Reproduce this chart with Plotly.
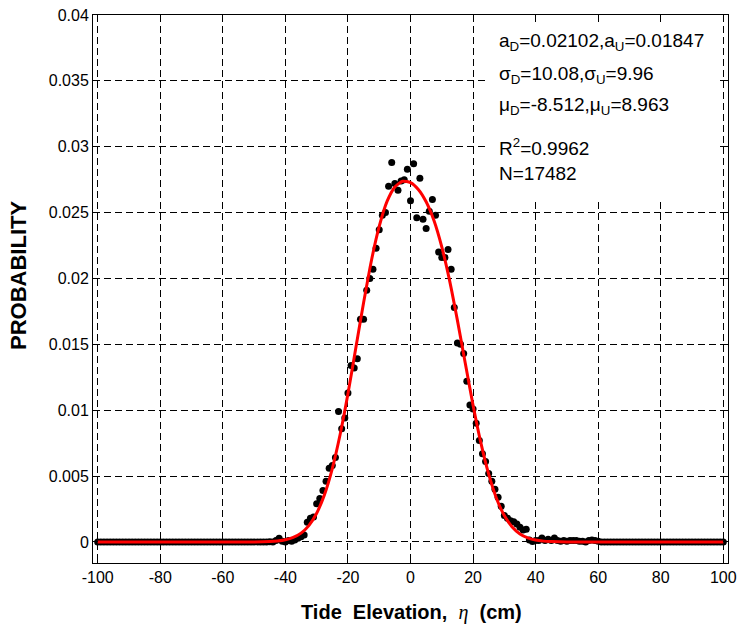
import plotly.graph_objects as go

# ---------------- data ----------------
dot_x = list(range(-100, 101))
dot_y = ([0.0] * 55 +
         [0.00002, 0.0, 0.0001, 0.00028, 0.00005, 0.0, 0.0001, 0.00005, 0.00015, 0.00028,
          0.0004, 0.00053, 0.0015, 0.0018, 0.0019, 0.0029, 0.0033, 0.0039, 0.0046, 0.0056,
          0.0058, 0.0064, 0.0099, 0.0086, 0.0094, 0.0113, 0.0134, 0.0132, 0.0139, 0.0169,
          0.0169, 0.0191, 0.0200, 0.0207, 0.0223, 0.0237, 0.0248, 0.0250, 0.0270, 0.0288,
          0.0272, 0.0267, 0.0274, 0.0275, 0.0283, 0.0259, 0.0287, 0.0246, 0.0276, 0.0245,
          0.0238, 0.0251, 0.0260, 0.0248, 0.0220, 0.0216, 0.0216, 0.0222, 0.0207, 0.0178,
          0.0151, 0.0150, 0.0143, 0.0122] +
         [0.0104, 0.0101, 0.0090, 0.0077, 0.0067, 0.0061, 0.0052, 0.0046, 0.0040, 0.0034,
          0.0027, 0.0020, 0.0018, 0.0016, 0.00154, 0.00137, 0.00112, 0.00091, 0.00096, 0.00015,
          0.00003, 0.0001, 0.0001, 0.0003, 0.0001, 0.0002, 0.0001, 0.0003, 0.0001, 0.00005,
          0.0001, 0.00005, 0.0001, 0.0001, 0.0001, 0.00005, 0.00005, 0.0, 0.0001, 0.00015,
          0.0001, 0.00005] +
         [0.0] * 40)

fit_x = [-100, -50, -45, -42.5, -40, -37.5, -35, -32.5, -30, -27.5, -25, -22.5, -20, -17.5,
         -15, -12.5, -10, -7.5, -5, -2.5, 0, 2.5, 5, 7.5, 10, 12.5, 15, 17.5, 20, 22.5, 25,
         27.5, 30, 32.5, 35, 37.5, 40, 42.5, 45, 50, 100]
fit_y = [0.0, 0.0, 0.00003, 0.00007, 0.00016, 0.00034, 0.00067, 0.00124, 0.00218, 0.00359,
         0.00557, 0.00815, 0.01125, 0.01470, 0.01815, 0.02135, 0.02395, 0.02585, 0.02695,
         0.02738, 0.02728, 0.02676, 0.02582, 0.02440, 0.02240, 0.01984, 0.01682, 0.01358,
         0.01038, 0.00752, 0.00514, 0.00330, 0.00200, 0.00114, 0.00061, 0.00031, 0.00014,
         0.00006, 0.00003, 0.0, 0.0]

x_ticks = [-100, -80, -60, -40, -20, 0, 20, 40, 60, 80, 100]
x_tick_text = ["-100", "-80", "-60", "-40", "-20", "0", "20", "40", "60", "80", "100"]
y_ticks = [0, 0.005, 0.01, 0.015, 0.02, 0.025, 0.03, 0.035, 0.04]
y_tick_text = ["0", "0.005", "0.01", "0.015", "0.02", "0.025", "0.03", "0.035", "0.04"]

stat_lines = [
    "a<sub>D</sub>=0.02102,a<sub>U</sub>=0.01847",
    "σ<sub>D</sub>=10.08,σ<sub>U</sub>=9.96",
    "μ<sub>D</sub>=-8.512,μ<sub>U</sub>=8.963",
    "R<sup>2</sup>=0.9962",
    "N=17482",
]

# ---------------- figure ----------------
W, H = 742, 639
L, R, T, B = 93, 14, 15, 76
pw, ph = W - L - R, H - T - B


def px(xp):
    return (xp - L) / pw


def py(yp):
    return (H - B - yp) / ph


FONT = "Liberation Sans, Arial, sans-serif"

fig = go.Figure()
fig.add_trace(go.Scatter(x=dot_x, y=dot_y, mode="markers",
                         marker=dict(color="black", size=7, line=dict(width=0)),
                         showlegend=False, hoverinfo="skip", cliponaxis=True))
fig.add_trace(go.Scatter(x=fit_x, y=fit_y, mode="lines",
                         line=dict(color="#ff0000", width=3, shape="spline", smoothing=0.6),
                         showlegend=False, hoverinfo="skip"))

axis_common = dict(
    showgrid=True, gridcolor="black", gridwidth=1, griddash="7px,4px",
    showline=True, linecolor="black", linewidth=1, mirror="allticks",
    ticks="inside", ticklen=5, tickcolor="black", tickwidth=1,
    zeroline=False, automargin=False,
    tickfont=dict(family=FONT, size=16, color="black"),
)

fig.update_layout(
    width=W, height=H,
    margin=dict(l=L, r=R, t=T, b=B, pad=0, autoexpand=False),
    paper_bgcolor="white", plot_bgcolor="white",
    xaxis=dict(range=[-101.5, 101.5], tickmode="array", tickvals=x_ticks,
               ticktext=x_tick_text, **axis_common),
    yaxis=dict(range=[-0.0016, 0.04], tickmode="array", tickvals=y_ticks,
               ticktext=y_tick_text, **axis_common),
    shapes=[dict(type="rect", xref="x", yref="y", x0=24.0, x1=98.8, y0=0.0259, y1=0.0394,
                 fillcolor="white", line=dict(width=0), layer="between")],
)

# statistics text
stat_y = [42, 75, 106, 147, 173]
for txt, yp in zip(stat_lines, stat_y):
    fig.add_annotation(text=txt, xref="paper", yref="paper", x=px(497), y=py(yp),
                       xanchor="left", yanchor="middle", showarrow=False,
                       font=dict(family=FONT, size=19, color="black"))

# axis titles
fig.add_annotation(
    text="<b>Tide\u00a0\u00a0Elevation,\u00a0\u00a0</b><i><span style=\"font-family:'Liberation Serif'\">η</span></i><b>\u00a0\u00a0(cm)</b>",
    xref="paper", yref="paper", x=px(412), y=py(612), xanchor="center", yanchor="middle",
    showarrow=False, font=dict(family=FONT, size=20, color="black"))
fig.add_annotation(
    text="<b>PROBABILITY</b>", textangle=-90,
    xref="paper", yref="paper", x=px(19), y=py(276), xanchor="center", yanchor="middle",
    showarrow=False, font=dict(family=FONT, size=22, color="black"))

fig.write_html("out.html")
